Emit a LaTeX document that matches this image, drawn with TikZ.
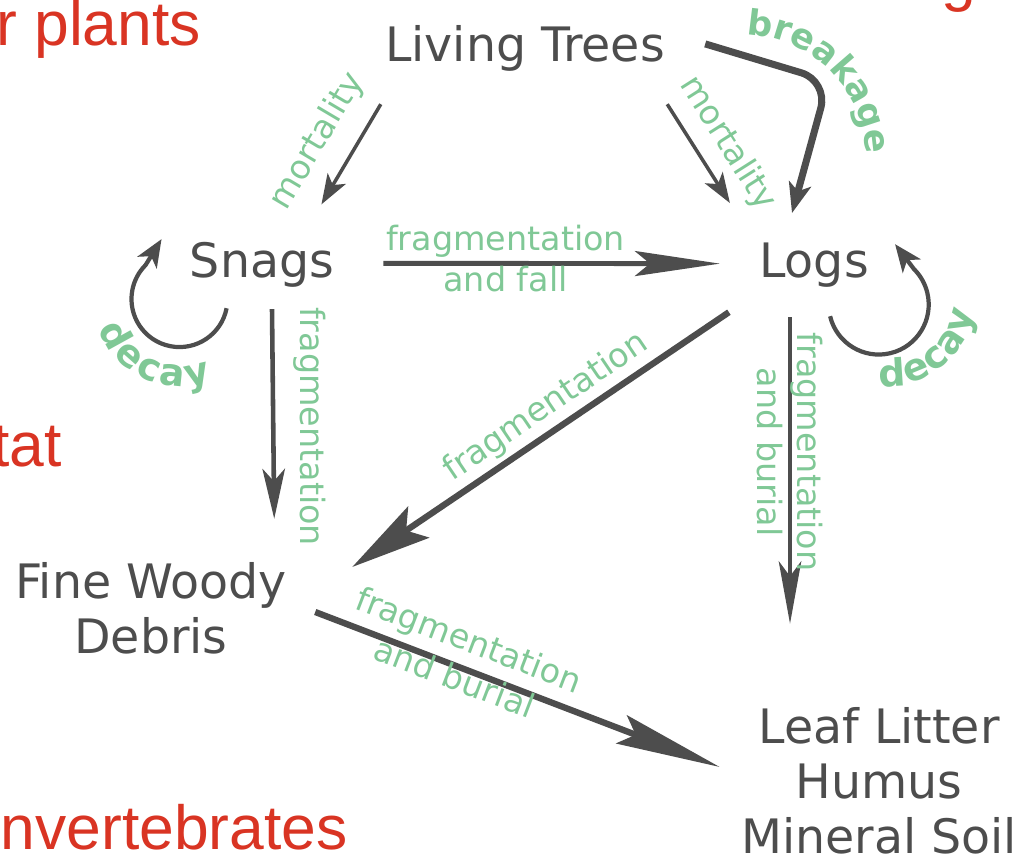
\documentclass[tikz,border=0pt]{standalone}
\usepackage{fontspec}
\setmainfont{DejaVu Sans}
\newfontfamily\slidefont{Liberation Sans}
\usepackage{tikz}
\usetikzlibrary{arrows.meta,decorations.text}
\definecolor{poolgray}{RGB}{77,77,77}
\definecolor{fluxgreen}{RGB}{128,200,150}
\definecolor{slidered}{RGB}{217,52,35}

\begin{document}
\begin{tikzpicture}[x=0.2mm,y=0.2mm,
  pool/.style={text=poolgray,inner sep=0pt,align=center,font=\fontsize{27}{31.3}\selectfont},
  flux/.style={text=fluxgreen,inner sep=0pt,align=center,font=\fontsize{19}{23}\selectfont},
  slide/.style={text=slidered,inner sep=0pt,font=\slidefont\fontsize{35.5}{40}\selectfont},
  arr/.style={draw=poolgray,line width=#1},
  tip/.style n args={3}{-{Stealth[length=#1,width=#2,inset=#3]}},
  curvetext/.style={decorate,decoration={text along path,text align=center,text color=fluxgreen,
    text={|\fontsize{20}{24}\selectfont\bfseries|#1}}},
  looptext/.style={decorate,decoration={text along path,text align={fit to path},text color=fluxgreen,
    text={|\fontsize{21.5}{24}\selectfont\bfseries|#1}}}]
  \useasboundingbox (0,0) rectangle (1018,861);
  \clip (0,0) rectangle (1018,861);
  % slide text cut off by the crop
  \node[slide,anchor=base west] (plants) at (-4,815) {r plants};
  \node[slide,anchor=base west] (cutoff) at (941,861) {ge};
  \node[slide,anchor=base east] (habitat) at (62,395) {tat};
  \node[slide,anchor=base east] (inverts) at (348,12) {nvertebrates};
  % pools
  \node[pool,anchor=base] (trees) at (525,799) {Living Trees};
  \node[pool,anchor=base] (snags) at (262,583) {Snags};
  \node[pool,anchor=base] (logs) at (814,583) {Logs};
  \node[pool] (fwd) at (151,253) {Fine Woody\\Debris};
  \node[pool] (litter) at (879,80.5) {Leaf Litter\\Humus\\Mineral Soil};
  % mortality and breakage
  \draw[arr=2pt,tip={0.6cm}{0.42cm}{0.15cm}] ([shift={(-4,-32)}]trees.south west) -- ([shift={(-13,38)}]snags.north east)
    node[flux,pos=0.55,sloped,above=10pt] (mortA) {mortality};
  \draw[arr=2pt,tip={0.6cm}{0.42cm}{0.15cm}] ([shift={(2,-32)}]trees.south east) -- ([shift={(-29,40)}]logs.north west)
    node[flux,pos=0.56,sloped,above=6.8pt] (mortB) {mortality};
  \draw[arr=4pt,tip={0.6cm}{0.45cm}{0.15cm},rounded corners=16pt] ([shift={(40,5)}]trees.east) -- ++(123,-37) -- ([shift={(-22,30)}]logs.north);
  \path[curvetext=breakage] ([shift={(58,11.9)}]trees.east) arc[start angle=100,end angle=-10,radius=121];
  % decay loops
  \draw[arr=2.4pt,tip={0.55cm}{0.45cm}{0.15cm}] ([shift={(37,-20)}]snags.south west) arc[start angle=-11,end angle=-225,radius=48] -- ++(16,26);
  \draw[arr=2.4pt,tip={0.55cm}{0.45cm}{0.15cm}] ([shift={(-39,-28)}]logs.south east) arc[start angle=193.5,end angle=405,radius=50] -- ++(-19,25);
  \path[looptext=decay] ([shift={(-91.4,-41)}]snags.south west) arc[start angle=200,end angle=291,radius=87];
  \path[looptext=decay] ([shift={(10.4,-97.9)}]logs.south east) arc[start angle=265,end angle=352,radius=87];
  % fragmentation fluxes
  \draw[arr=2.8pt,tip={1.7cm}{0.5cm}{0.3cm}] ([shift={(49,2)}]snags.east) -- ([shift={(-39,2)}]logs.west)
    node[flux,pos=0.363,yshift=2.85pt] (fragFall) {fragmentation\\and fall};
  \draw[arr=2.6pt,tip={1cm}{0.45cm}{0.25cm}] ([shift={(10,-21)}]snags.south) -- ([shift={(-13,43)}]fwd.north east)
    node[flux,pos=0.56,rotate=-90,above=10.5pt] (fragSnag) {fragmentation};
  \draw[arr=3.6pt,tip={1.6cm}{0.75cm}{0.3cm}] ([shift={(-30,-24)}]logs.south west) -- ([shift={(65,41)}]fwd.east)
    node[flux,pos=0.45,sloped,above=2.5pt] (fragLog) {fragmentation};
  \draw[arr=2.6pt,tip={1.25cm}{0.45cm}{0.3cm}] ([shift={(-24,-29)}]logs.south) -- ([shift={(-89,83)}]litter.north)
    node[flux,pos=0.44,rotate=-90] (burialLog) {fragmentation\\and burial};
  \draw[arr=3.6pt,tip={2.1cm}{0.6cm}{0.3cm}] ([shift={(28,-4)}]fwd.east) -- ([shift={(-21,13.5)}]litter.west)
    node[flux,pos=0.354,sloped,yshift=5.3pt] (burialFwd) {fragmentation\\and burial};
\end{tikzpicture}
\end{document}
